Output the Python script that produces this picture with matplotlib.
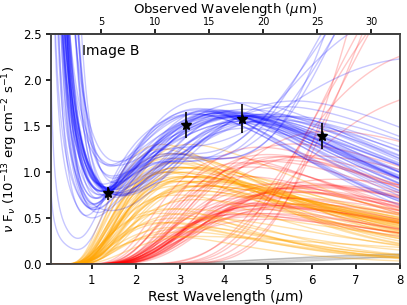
import numpy as np
import matplotlib
matplotlib.use("Agg")
import matplotlib.pyplot as plt

# photometry of image B (rest frame)
obs_wave = [1.37, 3.14, 4.41, 6.22]
obs_flux = [0.77, 1.51, 1.58, 1.39]
obs_err = [0.07, 0.145, 0.155, 0.145]
zfac = 4.08  # 1+z

# fitted models, one entry per model
# warm dust (orange): peak wavelength, peak height, short-side sharpness, long-side width
warm_peak = [3.2, 3.0, 3.4, 2.8, 3.6, 3.0, 3.2, 2.6, 3.4, 3.0,
             2.8, 3.6, 3.2, 3.0, 2.8, 3.4, 3.2, 2.6, 3.0, 3.6,
             2.8, 3.2, 3.4, 3.0, 2.8, 3.2, 3.4, 2.6, 3.0, 3.6,
             3.2, 3.0, 3.4, 2.8, 3.6, 3.0, 3.2,
             3.0, 2.8, 3.4, 2.6, 3.2, 3.0, 2.8, 3.6, 3.0, 2.6, 3.2, 3.4, 2.8]
warm_amp = [0.95, 1.05, 0.85, 1.1, 0.85, 1.2, 1.05, 1.25, 0.7, 0.95,
            1.15, 0.75, 1.15, 0.9, 1.0, 0.95, 0.8, 1.3, 1.05, 0.9,
            0.9, 1.3, 0.8, 0.85, 1.2, 0.95, 1.05, 1.0, 0.75, 0.85,
            1.0, 1.05, 0.95, 1.0, 0.9, 1.1, 0.9,
            0.5, 0.45, 0.4, 0.55, 0.35, 0.6, 0.3, 0.5, 0.4, 0.45, 0.55, 0.3, 0.6]
warm_sharp = [2.5, 3, 2.5, 3, 2.2, 2.5, 3, 3, 2.5, 2.2,
              2.5, 3, 2.5, 3, 2.5, 3, 2.2, 2.5, 2.5, 2.5,
              3, 3, 2.2, 2.5, 2.2, 2.5, 2.5, 2.5, 2.2, 3,
              2.5, 3, 2.5, 2.5, 3, 2.5, 2.5,
              2.5, 3, 2.5, 2.5, 2.2, 3, 2.5, 2.5, 2.5, 3, 2.5, 3, 2.2]
warm_width = [0.7, 0.6, 0.85, 0.7, 0.7, 0.6, 0.85, 0.6, 0.7, 0.85,
              0.6, 0.85, 0.6, 0.7, 0.85, 0.6, 0.85, 0.6, 0.7, 0.6,
              0.85, 0.7, 0.6, 0.85, 0.7, 0.85, 0.7, 0.7, 0.6, 0.7,
              0.7, 0.85, 0.7, 0.85, 0.7, 0.7, 0.85,
              0.5, 0.6, 0.5, 0.7, 0.5, 0.85, 0.5, 0.6, 0.5, 0.6, 0.5, 0.85, 0.5]
# cool dust (red): peak wavelength, height at 4.4 micron, short-side sharpness
cool_peak = [5.0, 5.5, 4.6, 6.0, 5.2, 4.8, 5.8, 5.0, 5.5, 6.2,
             4.5, 5.0, 5.4, 5.0, 5.6, 4.7, 6.0, 5.2, 5.0, 5.8,
             4.8, 5.0, 5.5, 6.5, 4.4, 5.2, 5.0, 5.6, 5.0, 6.0,
             10.0, 12.0, 11.0, 9.0, 13.0, 9.5, 10.5,
             4.6, 5.0, 5.5, 4.4, 5.2, 6.0, 4.8, 4.5, 5.6, 4.2, 6.4, 5.0, 5.3]
cool_at44 = [0.64, 0.7, 0.55, 0.67, 0.62, 0.51, 0.55, 0.62, 0.74, 0.66,
             0.66, 0.62, 0.55, 0.8, 0.63, 0.59, 0.68, 0.58, 0.61, 0.66,
             0.73, 0.47, 0.71, 0.65, 0.54, 0.68, 0.53, 0.78, 0.84, 0.69,
             0.35, 0.15, 0.22, 0.45, 0.12, 0.4, 0.3,
             1.05, 1.15, 1.05, 1.1, 1.1, 0.95, 1.25, 0.95, 1.15, 1.15, 1.05, 1.08, 1.05]
cool_sharp = [4] * 30 + [5, 5, 5, 5, 5, 4, 5] + [4] * 13
# hot component (adds up to the blue total): height at 1.4 micron, power-law slope
hot_at14 = [0.52, 0.5, 0.85, 0.35, 0.62, 0.3, 0.35, 0.08, 0.9, 0.55,
            0.25, 0.7, 0.45, 0.65, 0.3, 0.6, 0.3, 0.12, 0.4, 0.95,
            0.7, 0.5, 0.5, 0.35, 0.2, 0.6, 0.4, 0.2, 0.55, 0.65,
            0.5, 0.45, 0.55, 0.3, 0.6, 0.38, 0.5,
            0.6, 0.6, 0.7, 0.5, 0.45, 0.58, 0.65, 0.7, 0.62, 0.55, 0.6, 0.72, 0.5]
hot_slope = [1.2, 2.0, 1.0, 1.8, 1.1, 1.4, 1.3, 0.8, 1.0, 2.2,
             2.0, 0.9, 2.2, 2.0, 1.5, 1.2, 1.0, 1.0, 1.3, 1.2,
             1.8, 1.4, 2.3, 1.1, 1.5, 2.4, 0.9, 2.2, 1.2, 1.7,
             1.3, 1.5, 1.2, 1.6, 1.0, 1.4, 1.1,
             1.3, 1.2, 1.1, 1.5, 1.0, 1.4, 1.2, 1.0, 1.3, 1.1, 1.4, 1.0, 1.6]
# faint extra component (grey)
grey_peak = [9.0, 12.0, 8.0, 15.0, 10.0, 11.0, 14.0, 9.5]
grey_amp = [0.10, 0.14, 0.07, 0.18, 0.12, 0.09, 0.16, 0.11]


def bump(lam, peak, amp, sharp, width):
    u = peak / lam
    left = np.exp(sharp * (np.log(u) + 1 - u))
    right = np.exp(-0.5 * (np.log(lam / peak) / width) ** 2)
    return amp * np.where(lam < peak, left, right)


lam = np.linspace(0.08, 8, 500)

fig = plt.figure(figsize=(4.07, 3.05), dpi=100)
ax = fig.add_axes([0.1253, 0.1344, 0.8575, 0.7541])

for p, a in zip(grey_peak, grey_amp):
    ax.plot(lam, bump(lam, p, a, 3, 0.8), color='grey', alpha=0.2, lw=1)

totals = []
for i in range(len(warm_peak)):
    warm = bump(lam, warm_peak[i], warm_amp[i], warm_sharp[i], warm_width[i])
    cool = cool_at44[i] * bump(lam, cool_peak[i], 1, cool_sharp[i], 0.55) / bump(4.4, cool_peak[i], 1, cool_sharp[i], 0.55)
    hot = hot_at14[i] * (lam / 1.4) ** (-hot_slope[i])
    ax.plot(lam, warm, color='orange', alpha=0.33, lw=1)
    ax.plot(lam, cool, color='red', alpha=0.22, lw=1)
    totals.append(warm + cool + hot)

for tot in totals:
    ax.plot(lam, tot, color='blue', alpha=0.22, lw=1)

ax.errorbar(obs_wave, obs_flux, yerr=obs_err, fmt='*', color='k', ms=7, elinewidth=1.2, capsize=0, zorder=10)

ax.set_xlim(0.08, 8)
ax.set_ylim(0, 2.5)
ax.set_xticks(range(1, 9))
ax.set_yticks([0.0, 0.5, 1.0, 1.5, 2.0, 2.5])
ax.set_yticklabels(['0.0', '0.5', '1.0', '1.5', '2.0', '2.5'])
ax.tick_params(labelsize=8.5, length=3.5, width=1.2, direction='out')
ax.tick_params(axis='x', top=False)
for s in ax.spines.values():
    s.set_linewidth(1.3)
    s.set_color('0.25')
ax.set_xlabel(r'Rest Wavelength ($\mu$m)', fontsize=10, labelpad=1)
ax.set_ylabel(r'$\nu$ F$_{\nu}$ (10$^{-13}$ erg cm$^{-2}$ s$^{-1}$)', fontsize=9.5, labelpad=2)

top = ax.secondary_xaxis('top', functions=(lambda x: x * zfac, lambda x: x / zfac))
top.set_xticks([5, 10, 15, 20, 25, 30])
top.tick_params(labelsize=7, length=3.5, width=1.2, pad=1.5)
top.spines['top'].set_linewidth(1.3)
top.spines['top'].set_color('0.25')
top.set_xlabel(r'Observed Wavelength ($\mu$m)', fontsize=9.5, labelpad=3)

ax.text(0.78, 2.27, 'Image B', fontsize=10, va='baseline')

fig.savefig('out.png', dpi=100)
